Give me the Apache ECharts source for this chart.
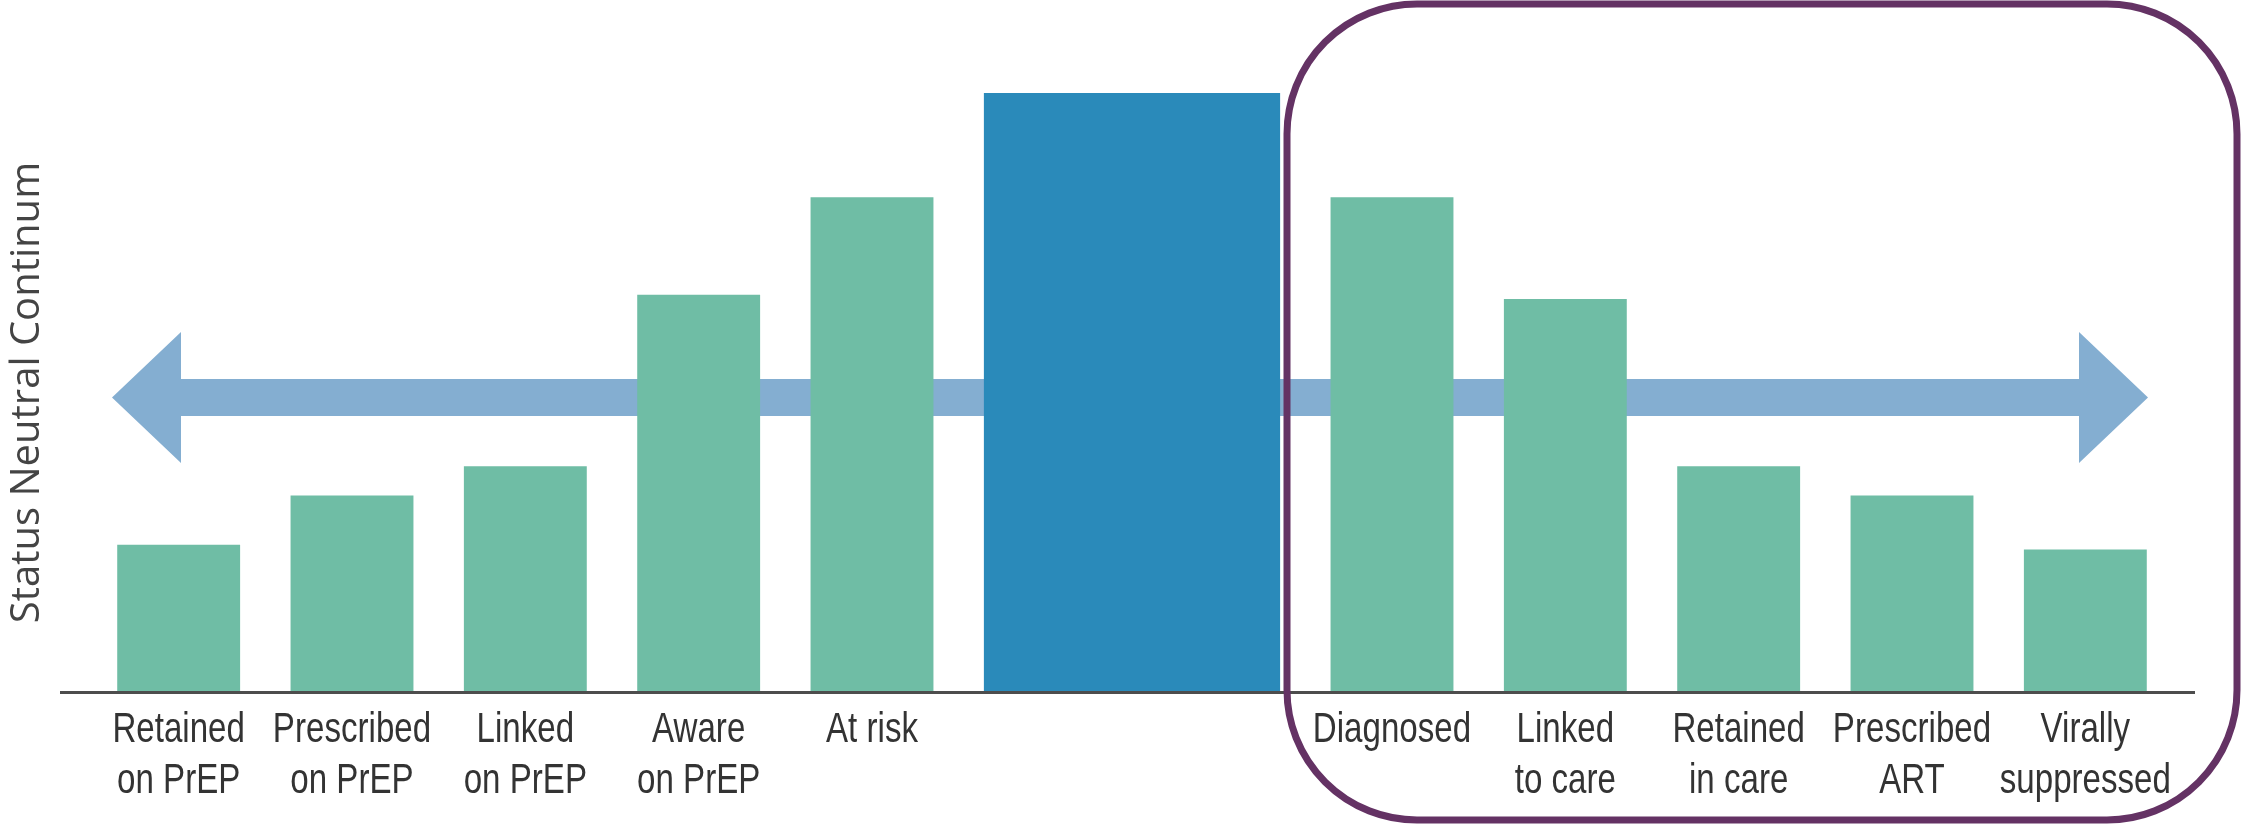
<!DOCTYPE html>
<html>
<head>
<meta charset="utf-8">
<title>Status Neutral Continum</title>
<script src="https://cdn.jsdelivr.net/npm/echarts@6/dist/echarts.min.js"></script>
<style>
  html, body { margin: 0; padding: 0; background: #ffffff; }
  #chart { width: 2243px; height: 826px; }
</style>
</head>
<body>
<div id="chart"></div>
<script>
// Stages of the continuum; the two empty slots hold the central bar.
const categories = [
  'Retained\non PrEP', 'Prescribed\non PrEP', 'Linked\non PrEP', 'Aware\non PrEP', 'At risk',
  '', '',
  'Diagnosed', 'Linked\nto care', 'Retained\nin care', 'Prescribed\nART', 'Virally\nsuppressed'
];
// Relative size of each stage (central population = 100).
const stageValues = [24.6, 32.8, 37.7, 66.3, 82.6, '-', '-', 82.6, 65.6, 37.7, 32.8, 23.8];
// Central population bar, spanning slots 5 to 6.
const centralBar = [[5, 6, 100]];

const W = 2243, H = 826;
const gridLeft = 89.5, gridRight = 71, gridTop = 93, gridBottom = 134;
const baseY = H - gridBottom;
const barRatio = 0.709;

const GREEN = '#6FBDA5';
const BLUE = '#2A8ABA';
const ARROW = '#84AED1';
const PURPLE = '#643264';

// Narrow lettering for the stage names: regular face squeezed horizontally
const labelFont = { size: 43, lineHeight: 51, squeeze: 0.77, margin: 13 };

// Double-headed arrow running behind the bars
const arrowY = 397.5, shaftHalf = 18.5, headHalf = 65.5, headLen = 69;
const arrowL = 112, arrowR = 2148;
const arrowPoints = [
  [arrowL, arrowY],
  [arrowL + headLen, arrowY - headHalf],
  [arrowL + headLen, arrowY - shaftHalf],
  [arrowR - headLen, arrowY - shaftHalf],
  [arrowR - headLen, arrowY - headHalf],
  [arrowR, arrowY],
  [arrowR - headLen, arrowY + headHalf],
  [arrowR - headLen, arrowY + shaftHalf],
  [arrowL + headLen, arrowY + shaftHalf],
  [arrowL + headLen, arrowY + headHalf]
];

const chart = echarts.init(document.getElementById('chart'), null, { renderer: 'canvas' });

chart.setOption({
  backgroundColor: '#ffffff',
  animation: false,
  grid: { left: gridLeft, right: gridRight, top: gridTop, bottom: gridBottom },
  xAxis: {
    type: 'category',
    data: categories,
    boundaryGap: true,
    axisLine: { show: false },
    axisTick: { show: false },
    splitLine: { show: false },
    axisLabel: { show: false }
  },
  yAxis: {
    type: 'value',
    min: 0,
    max: 100,
    name: 'Status Neutral Continum',
    nameLocation: 'middle',
    nameRotate: 90,
    nameGap: 44,
    nameTextStyle: {
      color: '#444444',
      fontSize: 40,
      fontFamily: "'Open Sans', sans-serif"
    },
    axisLine: { show: false },
    axisTick: { show: false },
    axisLabel: { show: false },
    splitLine: { show: false }
  },
  graphic: [
    {
      type: 'polygon',
      z: 0,
      shape: { points: arrowPoints },
      style: { fill: ARROW }
    },
    {
      type: 'line',
      z: 50,
      shape: { x1: 60, y1: baseY + 0.5, x2: 2195, y2: baseY + 0.5 },
      style: { stroke: '#4d4d4d', lineWidth: 3 }
    },
    {
      type: 'rect',
      z: 60,
      shape: { x: 1287, y: 4, width: 950, height: 816, r: 130 },
      style: { fill: 'none', stroke: PURPLE, lineWidth: 7 }
    }
  ],
  series: [
    {
      type: 'bar',
      data: stageValues,
      barWidth: (barRatio * 100) + '%',
      itemStyle: { color: GREEN },
      z: 2
    },
    {
      type: 'custom',
      data: centralBar,
      encode: { x: [0, 1], y: 2 },
      z: 2,
      renderItem: function (params, api) {
        const top = api.coord([api.value(0), api.value(2)]);
        const bottom = api.coord([api.value(1), 0]);
        const half = api.size([1, 0])[0] * barRatio / 2;
        return {
          type: 'rect',
          shape: {
            x: top[0] - half,
            y: top[1],
            width: bottom[0] - top[0] + 2 * half,
            height: bottom[1] - top[1]
          },
          style: { fill: BLUE }
        };
      }
    },
    {
      // stage names under the baseline, one per category slot
      type: 'custom',
      data: categories.map(function (name, i) { return [i, 0]; }),
      encode: { x: 0, y: 1 },
      z: 5,
      silent: true,
      renderItem: function (params, api) {
        const idx = api.value(0);
        const pt = api.coord([idx, 0]);
        return {
          type: 'text',
          x: pt[0],
          y: pt[1] + labelFont.margin,
          scaleX: labelFont.squeeze,
          style: {
            text: categories[idx],
            fill: '#333333',
            fontSize: labelFont.size,
            lineHeight: labelFont.lineHeight,
            fontFamily: "'Liberation Sans', Arial, sans-serif",
            align: 'center',
            verticalAlign: 'top'
          }
        };
      }
    }
  ]
});
</script>
</body>
</html>
